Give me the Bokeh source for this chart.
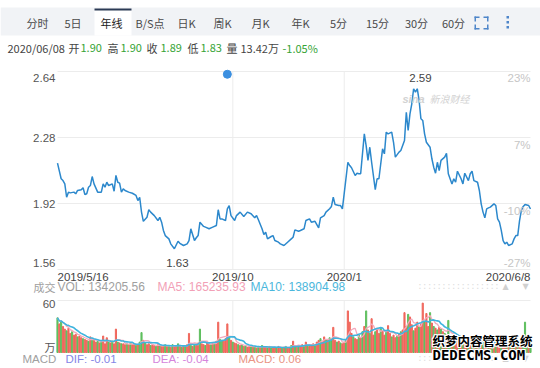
import numpy as np
import pandas as pd
from bokeh.plotting import figure
from bokeh.models import Range1d, Label, BoxAnnotation
from bokeh.core.properties import value
from bokeh.embed import file_html
from bokeh.resources import INLINE

# ---------------- data ----------------
# trading-day index (0 = 2019/5/16, 259 = 2020/6/8) and close price
close_day = [0, 2, 3, 4, 5, 6, 7, 9, 10, 11, 13, 14, 15, 16, 17, 18, 19, 20, 22, 24,
             25, 26, 27, 28, 30, 31, 32, 33, 34, 35, 36, 37, 39, 41, 43, 44, 45, 46, 47, 49,
             50, 51, 53, 55, 56, 57, 58, 59, 61, 62, 64, 66, 67, 69, 71, 72, 73, 75, 76, 77,
             78, 80, 81, 83, 85, 87, 88, 89, 90, 92, 93, 94, 95, 97, 98, 100, 102, 104, 106, 108,
             109, 110, 112, 113, 114, 115, 117, 118, 119, 121, 122, 124, 126, 128, 129, 130, 132, 133, 135, 136,
             138, 139, 141, 143, 144, 146, 147, 149, 150, 151, 152, 154, 155, 156, 159, 160, 161, 163, 164, 165,
             166, 168, 169, 170, 171, 172, 174, 175, 176, 177, 178, 179, 180, 181, 183, 184, 185, 187, 188, 190,
             191, 192, 193, 194, 195, 196, 197, 198, 199, 200, 201, 202, 204, 205, 206, 207, 208, 209, 210, 212,
             213, 214, 216, 217, 218, 219, 221, 222, 223, 225, 226, 227, 228, 230, 231, 232, 233, 234, 235, 236,
             237, 239, 240, 241, 242, 243, 244, 245, 246, 247, 249, 250, 251, 252, 253, 254, 255, 256, 258, 259]
close_px = [2.140, 2.055, 2.045, 2.027, 1.954, 1.982, 1.978, 1.982, 1.973, 1.991, 1.995, 2.006, 1.969, 1.973, 2.009, 2.018, 2.067, 2.027, 1.982, 1.982,
            2.027, 2.009, 2.036, 2.018, 2.027, 1.987, 2.073, 2.036, 2.031, 1.982, 2.000, 1.991, 1.982, 1.976, 1.964, 1.936, 1.954, 1.873, 1.823, 1.845,
            1.886, 1.873, 1.854, 1.827, 1.845, 1.818, 1.773, 1.745, 1.727, 1.700, 1.673, 1.714, 1.703, 1.691, 1.700, 1.718, 1.782, 1.718, 1.733, 1.745,
            1.818, 1.795, 1.791, 1.782, 1.791, 1.800, 1.886, 1.836, 1.836, 1.827, 1.891, 1.909, 1.854, 1.827, 1.854, 1.873, 1.849, 1.873, 1.864, 1.842,
            1.854, 1.831, 1.782, 1.751, 1.763, 1.727, 1.740, 1.745, 1.718, 1.709, 1.700, 1.691, 1.709, 1.727, 1.736, 1.776, 1.769, 1.773, 1.782, 1.827,
            1.836, 1.818, 1.823, 1.787, 1.842, 1.854, 1.873, 1.891, 1.904, 1.954, 1.914, 1.909, 1.909, 1.891, 2.145, 2.127, 2.115, 2.073, 2.085, 2.082,
            2.082, 2.300, 2.236, 2.155, 2.227, 2.145, 1.995, 2.055, 2.055, 2.137, 2.218, 2.191, 2.309, 2.300, 2.309, 2.254, 2.173, 2.200, 2.209, 2.264,
            2.418, 2.318, 2.409, 2.464, 2.546, 2.527, 2.546, 2.482, 2.382, 2.373, 2.300, 2.254, 2.227, 2.164, 2.118, 2.085, 2.145, 2.100, 2.155, 2.173,
            2.194, 2.082, 2.027, 2.055, 2.036, 2.096, 2.055, 2.027, 2.085, 2.045, 2.082, 2.096, 2.045, 2.036, 1.991, 1.918, 1.873, 1.842, 1.891, 1.896,
            1.900, 1.918, 1.909, 1.836, 1.818, 1.773, 1.718, 1.700, 1.709, 1.691, 1.700, 1.727, 1.745, 1.745, 1.827, 1.882, 1.904, 1.914, 1.909, 1.890]

# daily volume (万), one per trading day
volume = [40, 33, 36, 30, 27, 25, 28, 22, 24, 20,
          21, 18, 19, 17, 16, 15, 14, 13, 18, 15,
          14, 12, 13, 11, 12, 19, 10, 17, 12, 11,
          13, 10, 27, 12, 11, 10, 10, 9, 10, 9,
          11, 9, 10, 8, 9, 12, 23, 14, 11, 9,
          10, 8, 9, 8, 7, 9, 8, 7, 8, 9,
          7, 8, 6, 9, 7, 8, 10, 7, 6, 8,
          7, 9, 22, 8, 7, 9, 8, 11, 27, 10,
          9, 8, 12, 10, 9, 11, 10, 13, 35, 15,
          14, 13, 16, 33, 17, 14, 12, 11, 10, 9,
          8, 9, 7, 8, 6, 7, 8, 6, 7, 5,
          7, 6, 8, 7, 6, 5, 7, 6, 5, 6,
          5, 7, 6, 5, 6, 7, 5, 6, 8, 13,
          7, 6, 8, 7, 9, 8, 12, 7, 8, 9,
          10, 9, 12, 14, 16, 13, 18, 15, 14, 17,
          16, 29, 14, 12, 13, 11, 10, 12, 14, 48,
          35, 22, 18, 16, 15, 20, 17, 24, 30, 48,
          26, 22, 39, 20, 24, 28, 22, 28, 25, 20,
          24, 31, 22, 18, 20, 17, 19, 21, 24, 26,
          46, 30, 44, 41, 32, 25, 28, 35, 30, 33,
          57, 36, 45, 30, 46, 34, 30, 28, 26, 29,
          27, 24, 22, 20, 37, 18, 15, 16, 13, 14,
          12, 15, 11, 13, 10, 12, 14, 11, 10, 12,
          11, 15, 13, 12, 10, 11, 9, 10, 12, 11,
          10, 9, 12, 14, 11, 10, 12, 9, 11, 10,
          12, 11, 10, 13, 12, 12, 35, 10, 11, 13.42]
# r = up day (red), g = down day (green)
updown = ("grgrrgrrgr" "rgrrgrrgrg" "rrgrgrrrgr" "grrgrgrrgr" "grrgrggrgr"
          "rgrrgrgrrg" "rgrgrrgrgr" "grrgrgrrgr" "rgrrgrgrrg" "grrrgrgrrg"
          "rgrgrrgrgr" "grgrrgrgrr" "grrgrgrrgr" "grgrrgrgrr" "rgrrgrrgrg"
          "grrgrgrrgr" "rrgrrgrgrg" "rgrrgrrgrr" "grrgrrgrgr" "rrgrrgrrgr"
          "rgrrgrgrgr" "grgrggrgrr" "grgrrgrgrg" "rgrgrrgrgr" "grrgrrgrgr"
          "grgrrgggrg")

price_ticks = [2.64, 2.28, 1.92, 1.56]
price_tick_labels = ["2.64", "2.28", "1.92", "1.56"]
pct_tick_labels = ["23%", "7%", "-10%", "-27%"]
xtick_days = [0, 96, 157, 259]
xtick_labels = ["2019/5/16", "2019/10", "2020/1", "2020/6/8"]
low_day, low_val = 64, 1.63
high_day, high_val = 196, 2.59
marker_day = 93
vol_tick = 60

tabs = ["分时", "5日", "年线", "B/S点", "日K", "周K", "月K", "年K", "5分", "15分", "30分", "60分"]
info_date = "2020/06/08"
info_open, info_high, info_close, info_low = "1.90", "1.90", "1.89", "1.83"
info_vol, info_chg = "13.42万", "-1.05%"
vol_last, ma5_last, ma10_last = "134205.56", "165235.93", "138904.98"
dif, dea, macd = "-0.01", "-0.04", "0.06"

# ---------------- layout ----------------
W, H = 540, 368
L_PX, R_PX = 57, 530          # first / last day (px)
T_PX, B_PX = 71, 269          # 2.64 / 1.56 (px from top)
ndays = len(volume)
ppd = (R_PX - L_PX) / (ndays - 1)
x0 = -L_PX / ppd
x1 = (ndays - 1) + (W - R_PX) / ppd
pp = (price_ticks[0] - price_ticks[-1]) / (B_PX - T_PX)
y_top = price_ticks[0] + T_PX * pp
y_bot = price_ticks[-1] - (H - B_PX) * pp
V0_PX, V60_PX = 352, 300
vp = vol_tick / (V0_PX - V60_PX)
v_top = vol_tick + V60_PX * vp
v_bot = -(H - V0_PX) * vp

p = figure(width=W, height=H, x_range=Range1d(x0, x1), y_range=Range1d(y_bot, y_top),
           output_backend="svg", toolbar_location=None, min_border=0,
           x_axis_location=None, y_axis_location=None)
p.grid.visible = False
p.outline_line_color = None
p.background_fill_color = "white"
p.border_fill_color = "white"
p.extra_y_ranges = {"vol": Range1d(v_bot, v_top)}

FONT = "Liberation Sans"
CJK = "Noto Sans CJK SC"


def box(X0, Y0, X1, Y1, color):
    p.add_layout(BoxAnnotation(left=X0, right=X1, top=H - Y0, bottom=H - Y1,
                               left_units="screen", right_units="screen",
                               top_units="screen", bottom_units="screen",
                               fill_color=color, fill_alpha=1, line_color=None))


def label(X, Y, text, size="11px", color="#333", align="left", font=FONT, style="normal"):
    p.add_layout(Label(x=X, y=H - Y, x_units="screen", y_units="screen", text=text,
                       text_align=align, text_baseline="middle", text_font_size=size,
                       text_color=color, text_font=font, text_font_style=style))


# tab bar
box(0, 7, 540, 35, "#f1f3f6")
box(94, 8, 131, 35, "#ffffff")
box(94, 8, 131, 10, "#2b3a55")
tab_x = [37, 72.5, 111, 149.5, 186, 222, 260, 300, 338, 377, 416, 453]
for t, tx in zip(tabs, tab_x):
    label(tx, 22, t, size="11px", color="#222" if t == "年线" else "#4a4a4a", align="center", font=CJK)
# fullscreen icon and menu dots
ic = "#4f86c9"
for (a, b, c, d) in [(474, 16, 479, 17.5), (474, 16, 475.5, 21), (483, 16, 488, 17.5), (486.5, 16, 488, 21),
                     (474, 27.5, 479, 29), (474, 24, 475.5, 29), (483, 27.5, 488, 29), (486.5, 24, 488, 29)]:
    box(a, b, c, d, ic)
for yy in (16.5, 21.5, 26.5):
    box(506, yy - 1, 508.5, yy + 1.5, ic)

# info line
G = "#35a335"
segs = [(7, info_date, "#444"), (68, "开", "#444"), (80, info_open, G), (107, "高", "#444"),
        (120, info_high, G), (146, "收", "#444"), (160, info_close, G), (187, "低", "#444"),
        (200, info_low, G), (226, "量", "#444"), (240, info_vol, "#444"), (282, info_chg, G)]
for sx, st, sc in segs:
    label(sx, 47, st, size="11px", color=sc, font=CJK)

# price grid
p.segment(x0=[0] * 4, x1=[ndays - 1] * 4, y0=price_ticks, y1=price_ticks, line_color="#ececec", line_width=1)
p.segment(x0=xtick_days[1:3], x1=xtick_days[1:3], y0=[price_ticks[-1]] * 2, y1=[price_ticks[0]] * 2,
          line_color="#ececec", line_width=1)

# watermark
label(402, 98, "sina", size="11px", color="#d2d2d2", font=FONT, style="bold italic")
label(429, 98, "新浪财经", size="10px", color="#d2d2d2", font=CJK, style="italic")

# price line
p.line(close_day, close_px, line_color="#2c88cc", line_width=1.5)
p.scatter([marker_day], [price_ticks[0] - 0.015], size=8, color="#3b8fe0")

# price tick labels
p.text(x=[0] * 4, y=price_ticks, text=price_tick_labels, x_offset=-2, y_offset=[6, 0, 0, -7],
       text_align="right", text_baseline="middle", text_font_size="11.5px", text_color="#555",
       text_font=value(FONT))
p.text(x=[ndays - 1] * 4, y=price_ticks, text=pct_tick_labels, x_offset=0, y_offset=[6, 7, 7, -7],
       text_align="right", text_baseline="middle", text_font_size="11.5px", text_color="#c6c6c6",
       text_font=value(FONT))
aligns = ["left", "center", "center", "right"]
for d, t, a in zip(xtick_days, xtick_labels, aligns):
    p.text(x=[d], y=[price_ticks[-1]], text=[t], y_offset=7, text_align=a, text_baseline="middle",
           text_font_size="11.5px", text_color="#444", text_font=value(FONT))
p.text(x=[low_day], y=[low_val], text=[f"{low_val:.2f}"], x_offset=3, y_offset=6, text_align="center",
       text_baseline="middle", text_font_size="11.5px", text_color="#444", text_font=value(FONT))
p.text(x=[high_day], y=[high_val], text=[f"{high_val:.2f}"], x_offset=5, y_offset=-3, text_align="center",
       text_baseline="middle", text_font_size="11.5px", text_color="#444", text_font=value(FONT))

# volume header
label(33, 286, "成交", size="11px", color="#a0a0a0", font=CJK)
label(57, 286, f"VOL: {vol_last}", size="12px", color="#a0a0a0")
label(157, 286, f"MA5: {ma5_last}", size="12px", color="#f2a0b6")
label(250, 286, f"MA10: {ma10_last}", size="12px", color="#4bb7dc")
for yy in (286, 358):
    label(417, yy, ":" * 17, size="8px", color="#dcdcdc", font="DejaVu Sans Mono")
    label(505, yy, "▲", size="8px", color="#d0d0d0", align="center", font="DejaVu Sans")
    label(525, yy, "▼", size="8px", color="#d0d0d0", align="center", font="DejaVu Sans")

# volume panel
days = np.arange(ndays)
colors = ["#f0675c" if c == "r" else "#5fbf5f" for c in updown]
p.segment(x0=[0, 0], x1=[ndays - 1, ndays - 1], y0=[vol_tick, 0], y1=[vol_tick, 0],
          line_color="#ececec", y_range_name="vol")
p.segment(x0=xtick_days[1:3], x1=xtick_days[1:3], y0=[0, 0], y1=[vol_tick, vol_tick],
          line_color="#ececec", y_range_name="vol")
p.vbar(x=days, top=volume, bottom=0, width=0.62, color=colors, y_range_name="vol")
vs = pd.Series(volume, dtype=float)
p.line(days, vs.rolling(5, min_periods=1).mean(), line_color="#f4a9bc", line_width=1.3, y_range_name="vol")
p.line(days, vs.rolling(10, min_periods=1).mean(), line_color="#3fb4de", line_width=1.6, y_range_name="vol")
p.text(x=[0], y=[vol_tick], text=[str(vol_tick)], x_offset=-2, y_offset=3, text_align="right",
       text_baseline="middle", text_font_size="11.5px", text_color="#555", text_font=value(FONT),
       y_range_name="vol")
p.text(x=[0], y=[0], text=["万"], x_offset=-2, y_offset=-6, text_align="right",
       text_baseline="middle", text_font_size="11px", text_color="#555", text_font=value(CJK),
       y_range_name="vol")

# MACD line
label(22, 358, "MACD", size="11.5px", color="#a0a0a0")
label(65, 358, f"DIF: {dif}", size="11.5px", color="#8585e6")
label(152, 358, f"DEA: {dea}", size="11.5px", color="#d585dc")
label(238, 358, f"MACD: {macd}", size="11.5px", color="#ea9484")

# site watermark with white outline
for dx, dy in [(-1, -1), (-1, 0), (-1, 1), (0, -1), (0, 1), (1, -1), (1, 0), (1, 1)]:
    label(432 + dx, 340 + dy, "织梦内容管理系统", size="12.5px", color="white", font=CJK, style="bold")
    label(432 + dx, 354 + dy, "DEDECMS.COM", size="14px", color="white", font="DejaVu Sans Mono", style="bold")
label(432, 340, "织梦内容管理系统", size="12.5px", color="black", font=CJK, style="bold")
label(432, 354, "DEDECMS.COM", size="14px", color="black", font="DejaVu Sans Mono", style="bold")

open("out.html", "w").write(file_html(p, INLINE))
